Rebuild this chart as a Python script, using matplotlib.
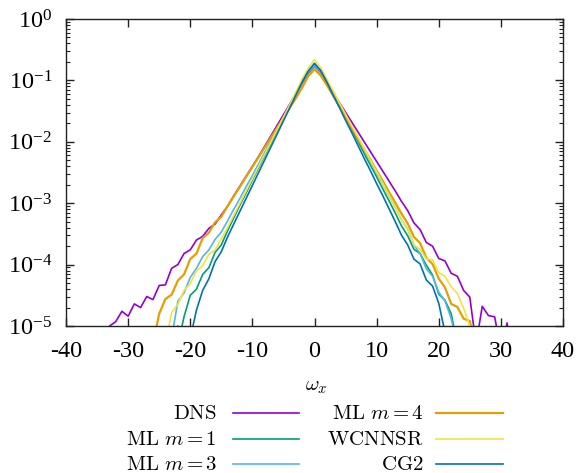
import numpy as np
import matplotlib
matplotlib.use('Agg')
import matplotlib.pyplot as plt
from matplotlib.lines import Line2D
from matplotlib.ticker import LogLocator, NullFormatter, FixedLocator, FixedFormatter

plt.rcParams['axes.unicode_minus'] = False

# bin centres of the vorticity pdf
omega = np.arange(-34, 35)

# log10 of the pdf (values below -5 fall off the bottom)
dns = [-5.6, -5.0, -4.93, -4.76, -4.84, -4.64, -4.70, -4.52, -4.57, -4.34, -4.33, -4.06, -4.00,
       -3.82, -3.76, -3.60, -3.54, -3.41, -3.34, -3.19, -3.05, -2.88, -2.72, -2.56, -2.40, -2.24,
       -2.07, -1.90, -1.73, -1.56, -1.39, -1.22, -1.05, -0.88, -0.77, -0.87, -1.04, -1.20, -1.36,
       -1.52, -1.68, -1.84, -2.00, -2.16, -2.32, -2.48, -2.64, -2.80, -2.97, -3.12, -3.32, -3.43,
       -3.64, -3.70, -3.90, -3.94, -4.14, -4.19, -4.42, -4.53, -5.3, -4.68, -4.83, -4.85, -5.4,
       -4.95, -5.6, -6, -6]
ml_m1 = [-6, -6, -6, -6, -6, -6, -6, -6, -6, -6, -6, -6, -5.3, -4.85, -4.50, -4.40, -4.16,
         -4.05, -3.80, -3.68, -3.45, -3.24, -3.03, -2.83, -2.62, -2.42, -2.22, -2.01, -1.81, -1.61,
         -1.41, -1.21, -1.02, -0.85, -0.74, -0.84, -1.02, -1.21, -1.41, -1.60, -1.80, -1.99, -2.19,
         -2.38, -2.57, -2.77, -2.96, -3.16, -3.37, -3.53, -3.75, -3.82, -4.01, -4.17, -4.48, -4.58,
         -4.80, -5.3, -6, -6, -6, -6, -6, -6, -6, -6, -6, -6, -6]
ml_m3 = [-6, -6, -6, -6, -6, -6, -6, -6, -6, -6, -6, -5.2, -4.60, -4.46, -4.21, -4.06, -3.87,
         -3.76, -3.59, -3.47, -3.29, -3.10, -2.92, -2.73, -2.55, -2.36, -2.17, -1.98, -1.79, -1.60,
         -1.41, -1.22, -1.04, -0.87, -0.76, -0.86, -1.03, -1.21, -1.40, -1.58, -1.77, -1.95, -2.14,
         -2.32, -2.51, -2.69, -2.88, -3.06, -3.27, -3.42, -3.68, -3.82, -4.07, -4.19, -4.45, -4.59,
         -4.88, -5.3, -6, -6, -6, -6, -6, -6, -6, -6, -6, -6, -6]
ml_m4 = [-6, -6, -6, -6, -6, -6, -6, -6, -5.3, -4.80, -4.56, -4.49, -4.26, -4.16, -3.91, -3.82,
         -3.57, -3.48, -3.31, -3.22, -3.05, -2.89, -2.73, -2.57, -2.41, -2.25, -2.09, -1.93, -1.77,
         -1.61, -1.45, -1.29, -1.12, -0.93, -0.82, -0.92, -1.08, -1.25, -1.42, -1.60, -1.77, -1.95,
         -2.12, -2.29, -2.47, -2.64, -2.82, -2.99, -3.17, -3.33, -3.55, -3.65, -3.89, -3.99, -4.23,
         -4.37, -4.64, -4.69, -4.88, -4.92, -5.4, -6, -6, -6, -6, -6, -6, -6, -6]
wcnnsr = [-6, -6, -6, -6, -6, -6, -6, -6, -6, -6, -5.3, -4.78, -4.65, -4.42, -4.31, -4.10,
          -4.02, -3.83, -3.76, -3.58, -3.40, -3.20, -3.00, -2.80, -2.60, -2.40, -2.20, -2.00, -1.80,
          -1.60, -1.40, -1.19, -0.98, -0.80, -0.66, -0.79, -0.98, -1.17, -1.36, -1.55, -1.74, -1.92,
          -2.11, -2.30, -2.49, -2.68, -2.87, -3.06, -3.27, -3.42, -3.68, -3.75, -3.91, -3.92, -4.13,
          -4.19, -4.36, -4.47, -4.71, -5.0, -6, -6, -6, -6, -6, -6, -6, -6, -6]
cg2 = [-6, -6, -6, -6, -6, -6, -6, -6, -6, -6, -6, -6, -5.0, -5.4, -5.2, -4.74, -4.42, -4.23,
       -3.95, -3.79, -3.55, -3.34, -3.13, -2.92, -2.71, -2.50, -2.29, -2.08, -1.87, -1.66, -1.45,
       -1.24, -1.03, -0.85, -0.72, -0.84, -1.03, -1.24, -1.44, -1.65, -1.85, -2.06, -2.27, -2.47,
       -2.68, -2.88, -3.09, -3.30, -3.52, -3.68, -3.91, -3.99, -4.25, -4.35, -4.63, -5.1, -6, -6,
       -6, -6, -6, -6, -6, -6, -6, -6, -6, -6, -6]

labels = [r'$\mathrm{DNS}$', r'$\mathrm{ML}\ m=1$', r'$\mathrm{ML}\ m=3$',
          r'$\mathrm{ML}\ m=4$', r'$\mathrm{WCNNSR}$', r'$\mathrm{CG2}$']
colors = ['#9400d3', '#009e73', '#56b4e9', '#e69f00', '#f0e442', '#0072b2']
series = [dns, ml_m1, ml_m3, ml_m4, wcnnsr, cg2]

W, H = 582, 473
fig = plt.figure(figsize=(W / 100, H / 100), dpi=100)
ax = fig.add_axes([66 / W, 1 - 326 / H, (563 - 66) / W, (326 - 19) / H])

for vals, c in zip(series, colors):
    lw = 1.6 if c == '#e69f00' else 1.2
    ax.plot(omega, 10.0 ** np.array(vals), color=c, lw=lw)

ax.set_yscale('log')
ax.set_xlim(-40, 40)
ax.set_ylim(1e-5, 1)

serif = ['Liberation Serif', 'DejaVu Serif']
xt = [-40, -30, -20, -10, 0, 10, 20, 30, 40]
ax.xaxis.set_major_locator(FixedLocator(xt))
ax.xaxis.set_major_formatter(FixedFormatter([str(v) for v in xt]))
yt = [1e-5, 1e-4, 1e-3, 1e-2, 1e-1, 1]
ax.yaxis.set_major_locator(FixedLocator(yt))
ax.yaxis.set_major_formatter(FixedFormatter(
    [r'$\mathregular{10^{-%d}}$' % k for k in [5, 4, 3, 2, 1]] + [r'$\mathregular{10^{0}}$']))
ax.yaxis.set_minor_locator(LogLocator(base=10, subs=np.arange(2, 10), numticks=20))
ax.yaxis.set_minor_formatter(NullFormatter())

ax.tick_params(which='both', direction='in', top=True, right=True, color='#222222')
ax.tick_params(which='major', length=6, width=1)
ax.tick_params(which='minor', length=3, width=0.8)
ax.tick_params(axis='x', pad=11)
ax.tick_params(axis='y', pad=10)
for lab in ax.get_xticklabels() + ax.get_yticklabels():
    lab.set_fontfamily(serif)
    lab.set_fontsize(17.5)
    lab.set_math_fontfamily('stix')
for s in ax.spines.values():
    s.set_linewidth(1.0)
    s.set_color('#222222')

# legend drawn by hand, gnuplot style
fig.text(316 / W, 1 - 386 / H, r'$\omega_x$', ha='center', va='center', fontsize=15,
         math_fontfamily='cm')
text_right = [217, 217, 217, 424, 424, 424]
line_x = [(233, 299), (233, 299), (233, 299), (436, 503), (436, 503), (436, 503)]
row_y = [413, 439, 464, 413, 439, 464]
for lab, c, tx, (x0, x1), yy in zip(labels, colors, text_right, line_x, row_y):
    fig.text(tx / W, 1 - yy / H, lab, ha='right', va='center', fontsize=15, math_fontfamily='cm')
    lw = 1.6 if c == '#e69f00' else 1.2
    fig.add_artist(Line2D([x0 / W, x1 / W], [1 - yy / H, 1 - yy / H], color=c, lw=lw,
                          transform=fig.transFigure))

fig.savefig('out.png', dpi=100)
